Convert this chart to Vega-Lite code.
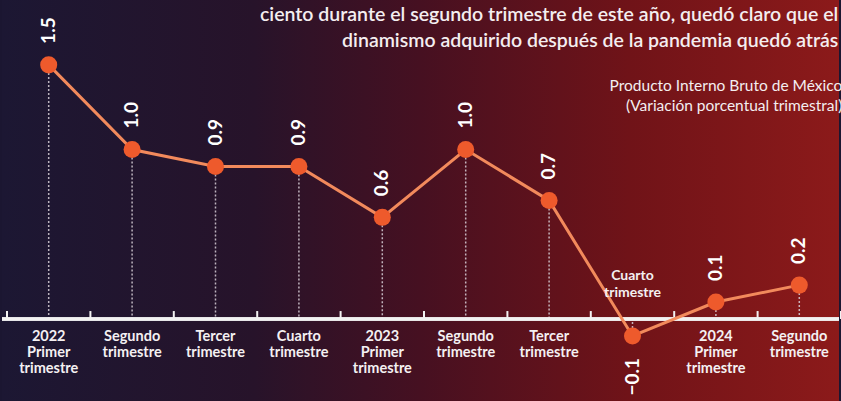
{
  "$schema": "https://vega.github.io/schema/vega-lite/v6.json",
  "width": 841,
  "height": 401,
  "autosize": {"type": "fit", "contains": "padding"},
  "padding": 0,
  "background": "#1b1631",
  "config": {"view": {"stroke": null}, "font": "Lato"},
  "data": {
    "values": [
      {"periodo": "2022 T1", "etiqueta": "2022|Primer|trimestre", "valor": 1.5},
      {"periodo": "2022 T2", "etiqueta": "Segundo|trimestre", "valor": 1.0},
      {"periodo": "2022 T3", "etiqueta": "Tercer|trimestre", "valor": 0.9},
      {"periodo": "2022 T4", "etiqueta": "Cuarto|trimestre", "valor": 0.9},
      {"periodo": "2023 T1", "etiqueta": "2023|Primer|trimestre", "valor": 0.6},
      {"periodo": "2023 T2", "etiqueta": "Segundo|trimestre", "valor": 1.0},
      {"periodo": "2023 T3", "etiqueta": "Tercer|trimestre", "valor": 0.7},
      {"periodo": "2023 T4", "etiqueta": "Cuarto|trimestre", "valor": -0.1},
      {"periodo": "2024 T1", "etiqueta": "2024|Primer|trimestre", "valor": 0.1},
      {"periodo": "2024 T2", "etiqueta": "Segundo|trimestre", "valor": 0.2}
    ]
  },
  "encoding": {
    "x": {
      "field": "periodo",
      "type": "nominal",
      "sort": null,
      "axis": null,
      "scale": {"type": "band", "paddingInner": 0, "paddingOuter": 0, "range": [5, 839]}
    }
  },
  "layer": [
    {
      "data": {"values": [{}]},
      "mark": {
        "type": "rect",
        "color": {
          "gradient": "linear",
          "x1": 0, "x2": 1, "y1": 0, "y2": 0,
          "stops": [
            {"offset": 0, "color": "#1c1733"},
            {"offset": 0.3, "color": "#27132a"},
            {"offset": 0.5, "color": "#461021"},
            {"offset": 0.75, "color": "#701318"},
            {"offset": 1, "color": "#8c1a1a"}
          ]
        }
      },
      "encoding": {"x": null}
    },
    {
      "mark": {"type": "rule", "color": "#d8d0d8", "strokeWidth": 1.5, "strokeDash": [2, 2], "opacity": 0.85},
      "encoding": {
        "y": {"field": "valor", "type": "quantitative", "scale": {"domain": [-0.484, 1.883], "nice": false, "zero": false}, "axis": null},
        "y2": {"datum": 0}
      }
    },
    {
      "mark": {"type": "rule", "color": "#f2f2f2", "strokeWidth": 2.5},
      "encoding": {"x": null, "y": {"datum": 0, "type": "quantitative"}}
    },
    {
      "mark": {"type": "rule", "color": "#f2f2f2", "strokeWidth": 2},
      "encoding": {
        "x": {"field": "periodo", "type": "nominal", "sort": null, "bandPosition": 0},
        "y": {"datum": 0, "type": "quantitative"},
        "y2": {"datum": 0.047}
      }
    },
    {
      "transform": [{"filter": "datum.periodo == '2024 T2'"}],
      "mark": {"type": "rule", "color": "#f2f2f2", "strokeWidth": 2},
      "encoding": {
        "x": {"field": "periodo", "type": "nominal", "sort": null, "bandPosition": 1},
        "y": {"datum": 0, "type": "quantitative"},
        "y2": {"datum": 0.047}
      }
    },
    {
      "mark": {"type": "line", "color": "#f28a5c", "strokeWidth": 3},
      "encoding": {"y": {"field": "valor", "type": "quantitative"}}
    },
    {
      "mark": {"type": "point", "filled": true, "color": "#ee5a2c", "opacity": 1, "size": 290},
      "encoding": {"y": {"field": "valor", "type": "quantitative"}}
    },
    {
      "transform": [{"filter": "datum.valor >= 0"}],
      "mark": {"type": "text", "angle": 270, "align": "left", "baseline": "middle", "dx": 21, "fontSize": 19, "fontWeight": "bold", "color": "#ffffff"},
      "encoding": {
        "y": {"field": "valor", "type": "quantitative"},
        "text": {"field": "valor", "type": "quantitative", "format": ".1f"}
      }
    },
    {
      "transform": [{"filter": "datum.valor < 0"}],
      "mark": {"type": "text", "angle": 270, "align": "right", "baseline": "middle", "dx": -22, "fontSize": 19, "fontWeight": "bold", "color": "#ffffff"},
      "encoding": {
        "y": {"field": "valor", "type": "quantitative"},
        "text": {"field": "valor", "type": "quantitative", "format": ".1f"}
      }
    },
    {
      "transform": [{"filter": "datum.valor >= 0"}],
      "mark": {"type": "text", "align": "center", "baseline": "top", "dy": 11, "fontSize": 14.5, "lineHeight": 16, "fontWeight": "bold", "lineBreak": "|", "color": "#f4f0f2"},
      "encoding": {
        "y": {"datum": 0, "type": "quantitative"},
        "text": {"field": "etiqueta"}
      }
    },
    {
      "transform": [{"filter": "datum.valor < 0"}],
      "mark": {"type": "text", "align": "center", "baseline": "bottom", "dy": -36, "fontSize": 14, "lineHeight": 17, "fontWeight": "bold", "lineBreak": "|", "color": "#f4f0f2"},
      "encoding": {
        "y": {"datum": 0, "type": "quantitative"},
        "text": {"field": "etiqueta"}
      }
    },
    {
      "data": {"values": [{"texto": "ciento durante el segundo trimestre de este año, quedó claro que el|dinamismo adquirido después de la pandemia quedó atrás"}]},
      "mark": {"type": "text", "align": "right", "baseline": "top", "dx": 39, "fontSize": 19.5, "lineHeight": 26, "fontWeight": 600, "lineBreak": "|", "color": "#f4eef0"},
      "encoding": {
        "x": {"datum": "2024 T2"},
        "y": {"datum": 1.85, "type": "quantitative"},
        "text": {"field": "texto"}
      }
    },
    {
      "data": {"values": [{"texto": "Producto Interno Bruto de México|(Variación porcentual trimestral)"}]},
      "mark": {"type": "text", "align": "right", "baseline": "top", "dx": 43, "fontSize": 15.5, "lineHeight": 20, "fontWeight": "normal", "lineBreak": "|", "color": "#f4eef0"},
      "encoding": {
        "x": {"datum": "2024 T2"},
        "y": {"datum": 1.415, "type": "quantitative"},
        "text": {"field": "texto"}
      }
    }
  ]
}
